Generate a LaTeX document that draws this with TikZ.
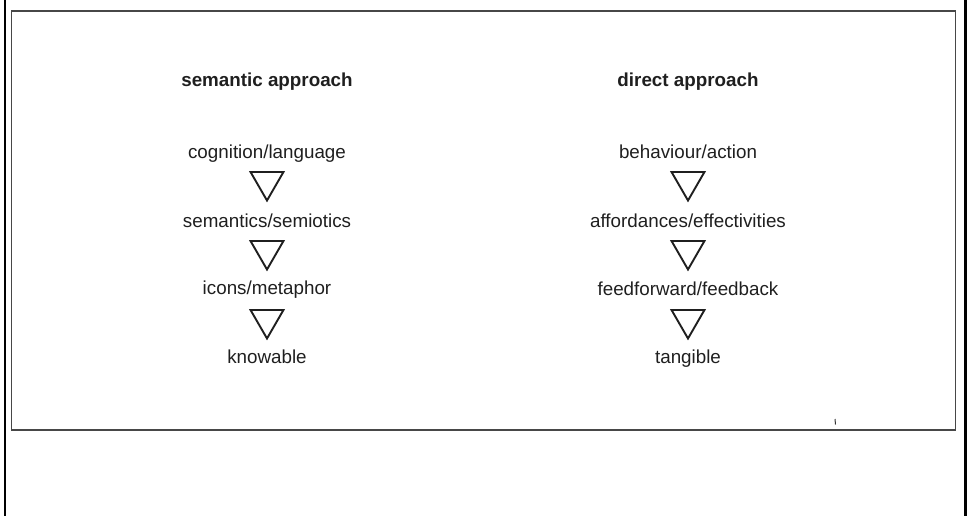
\documentclass[tikz,border=0pt]{standalone}
\usepackage{fontspec}
\setmainfont{Liberation Sans}
\usetikzlibrary{shapes.geometric}
\begin{document}
\begin{tikzpicture}[x=1pt,y=-1pt,
  lbl/.style={anchor=base, inner sep=0pt, text=black!88, font=\fontsize{18.8}{22}\selectfont},
  head/.style={lbl, font=\fontsize{18.8}{22}\selectfont\bfseries},
  tri/.style={draw=black!88, line width=1.9pt, regular polygon, regular polygon sides=3,
    shape border rotate=180, minimum size=38pt, inner sep=0pt},
  frameline/.style={line width=2.8pt, black},
  boxline/.style={line width=1.6pt, black!72}]
\useasboundingbox (0,0) rectangle (967,516);
% outer frame (left and right sides)
\draw[frameline] (5,0) -- (5,516);
\draw[frameline] (965.5,0) -- (965.5,516);
% inner box
\draw[boxline] (11.5,11) rectangle (955.5,430);
\draw[line width=1pt, black!80] (835,419) -- (835.5,424.5);
% left column
\node[head] (hl) at (267,87) {semantic approach};
\node[lbl] (l1) at (267,159) {cognition/language};
\node[tri] (tl1) at (267,181.5) {};
\node[lbl] (l2) at (267,227) {semantics/semiotics};
\node[tri] (tl2) at (267,250.5) {};
\node[lbl] (l3) at (267,294) {icons/metaphor};
\node[tri] (tl3) at (267,319.5) {};
\node[lbl] (l4) at (267,363) {knowable};
% right column
\node[head] (hr) at (688,87) {direct approach};
\node[lbl] (r1) at (688,159) {behaviour/action};
\node[tri] (tr1) at (688,181.5) {};
\node[lbl] (r2) at (688,227) {affordances/effectivities};
\node[tri] (tr2) at (688,250.5) {};
\node[lbl] (r3) at (688,295) {feedforward/feedback};
\node[tri] (tr3) at (688,319.5) {};
\node[lbl] (r4) at (688,363) {tangible};
\end{tikzpicture}
\end{document}
